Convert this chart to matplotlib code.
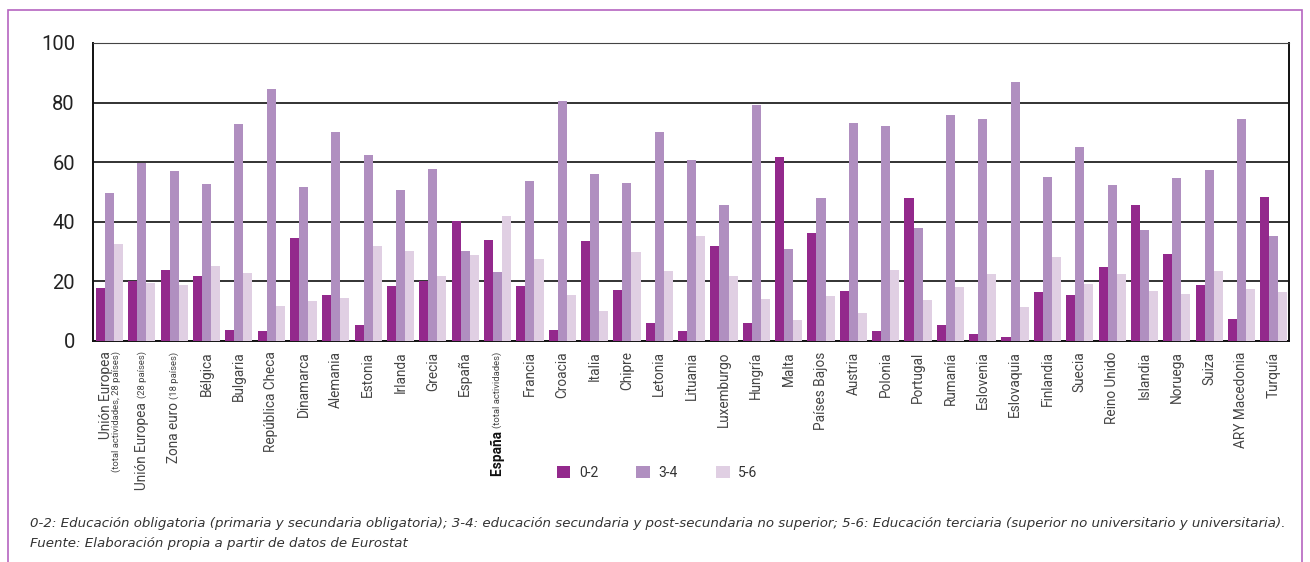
import matplotlib
matplotlib.use("Agg")
import matplotlib.pyplot as plt
import matplotlib.patches as patches
import numpy as np

plt.rcParams['font.family'] = ['Roboto', 'DejaVu Sans']

# etiquetas del eje x (texto principal + sufijo en letra pequeña)
paises = ['Unión Europea', 'Unión Europea', 'Zona euro', 'Bélgica', 'Bulgaria',
          'República Checa', 'Dinamarca', 'Alemania', 'Estonia', 'Irlanda', 'Grecia',
          'España', 'España', 'Francia', 'Croacia', 'Italia', 'Chipre', 'Letonia',
          'Lituania', 'Luxemburgo', 'Hungría', 'Malta', 'Países Bajos', 'Austria',
          'Polonia', 'Portugal', 'Rumanía', 'Eslovenia', 'Eslovaquia', 'Finlandia',
          'Suecia', 'Reino Unido', 'Islandia', 'Noruega', 'Suiza', 'ARY Macedonia',
          'Turquía']
sufijos = {1: '(28 países)', 2: '(18 países)', 12: '(total actividades)'}

niv_0_2 = [17.9, 20.2, 23.9, 21.9, 3.7, 3.4, 34.7, 15.5, 5.4, 18.5, 20.2, 40.4, 34.0,
           18.5, 3.7, 33.7, 17.2, 6.1, 3.4, 32.0, 6.1, 61.7, 36.4, 16.9, 3.4, 47.9,
           5.4, 2.4, 1.3, 16.5, 15.5, 24.9, 45.8, 29.3, 18.9, 7.4, 48.2]
niv_3_4 = [49.6, 59.7, 57.0, 52.6, 72.8, 84.6, 51.6, 70.1, 62.4, 50.6, 57.6, 30.3, 23.3,
           53.6, 80.6, 56.0, 52.9, 70.1, 60.7, 45.8, 79.2, 31.0, 47.9, 73.1, 72.1, 37.8,
           75.8, 74.5, 87.0, 54.9, 65.1, 52.2, 37.1, 54.6, 57.3, 74.5, 35.1]
niv_5_6 = [32.4, 19.6, 18.9, 25.3, 22.9, 11.8, 13.5, 14.5, 32.0, 30.3, 21.9, 29.0, 42.1,
           27.6, 15.5, 10.1, 29.7, 23.6, 35.4, 21.9, 14.2, 7.1, 15.2, 9.4, 23.9, 13.8,
           18.2, 22.6, 11.5, 28.3, 19.2, 22.6, 16.9, 15.8, 23.6, 17.5, 16.5]

c1, c2, c3 = '#93298C', '#B08FC0', '#E0CFE3'

fig = plt.figure(figsize=(13.1, 5.62), dpi=100)
ax = fig.add_axes([93/1310, 1-341/562, (1289-93)/1310, (341-43)/562])

x = np.arange(len(paises))
w = 0.28
ax.bar(x - w, niv_0_2, w, color=c1, label='0-2', zorder=3)
ax.bar(x, niv_3_4, w, color=c2, label='3-4', zorder=3)
ax.bar(x + w, niv_5_6, w, color=c3, label='5-6', zorder=3)

ax.set_xlim(-0.51, 36.47)
ax.set_ylim(0, 100)
ax.set_yticks([0, 20, 40, 60, 80, 100])
ax.tick_params(axis='y', labelsize=14.5, length=0, pad=13, labelcolor='#222')
ax.set_xticks([])
ax.yaxis.grid(True, color='#222', lw=1.3, zorder=1)
for s in ['left', 'bottom', 'right']:
    ax.spines[s].set_color('#111')
    ax.spines[s].set_linewidth(1.4)
ax.spines['top'].set_color('#444')

col = '#444'
fs, fs_small = 9.8, 6.8
tr = ax.get_xaxis_transform()
for i, p in enumerate(paises):
    if i == 0:
        ax.text(i - 0.1, -0.035, 'Unión Europea', rotation=90, ha='center', va='top',
                fontsize=fs, color=col, transform=tr)
        ax.text(i + 0.2, -0.035, '(total actividades, 28 países)', rotation=90,
                ha='center', va='top', fontsize=fs_small, color=col, transform=tr)
    elif i in sufijos:
        t = ax.text(i, -0.035, sufijos[i], rotation=90, ha='center', va='top',
                    fontsize=fs_small, color=col, transform=tr)
        ax.annotate(p + ' ', xy=(0.5, 0), xycoords=t, rotation=90, ha='center',
                    va='top', fontsize=fs, color='#111' if i == 12 else col,
                    fontweight='bold' if i == 12 else 'normal')
    else:
        ax.text(i, -0.035, p, rotation=90, ha='center', va='top', fontsize=fs,
                color=col, transform=tr)

fig.legend(loc='center', bbox_to_anchor=(657/1310, 1-473/562), ncol=3, frameon=False,
           fontsize=10, handlelength=1.0, handleheight=1.0, columnspacing=2.75,
           handletextpad=0.6, labelcolor='#333')

nota = ('0-2: Educación obligatoria (primaria y secundaria obligatoria); 3-4: educación '
        'secundaria y post-secundaria no superior; 5-6: Educación terciaria (superior no '
        'universitario y universitaria).')
fig.text(30/1310, 1-523/562, nota, fontsize=9.65, style='italic', color='#333',
         va='center', family='DejaVu Sans')
fig.text(30/1310, 1-544/562, 'Fuente: Elaboración propia a partir de datos de Eurostat',
         fontsize=9.65, style='italic', color='#333', va='center', family='DejaVu Sans')

fig.patches.append(patches.Rectangle((8/1310, -0.02), 1294/1310, 1 - 10/562 + 0.02,
                                     transform=fig.transFigure, fill=False,
                                     edgecolor='#B565C0', lw=1.2))

fig.savefig('out.png', dpi=100)
